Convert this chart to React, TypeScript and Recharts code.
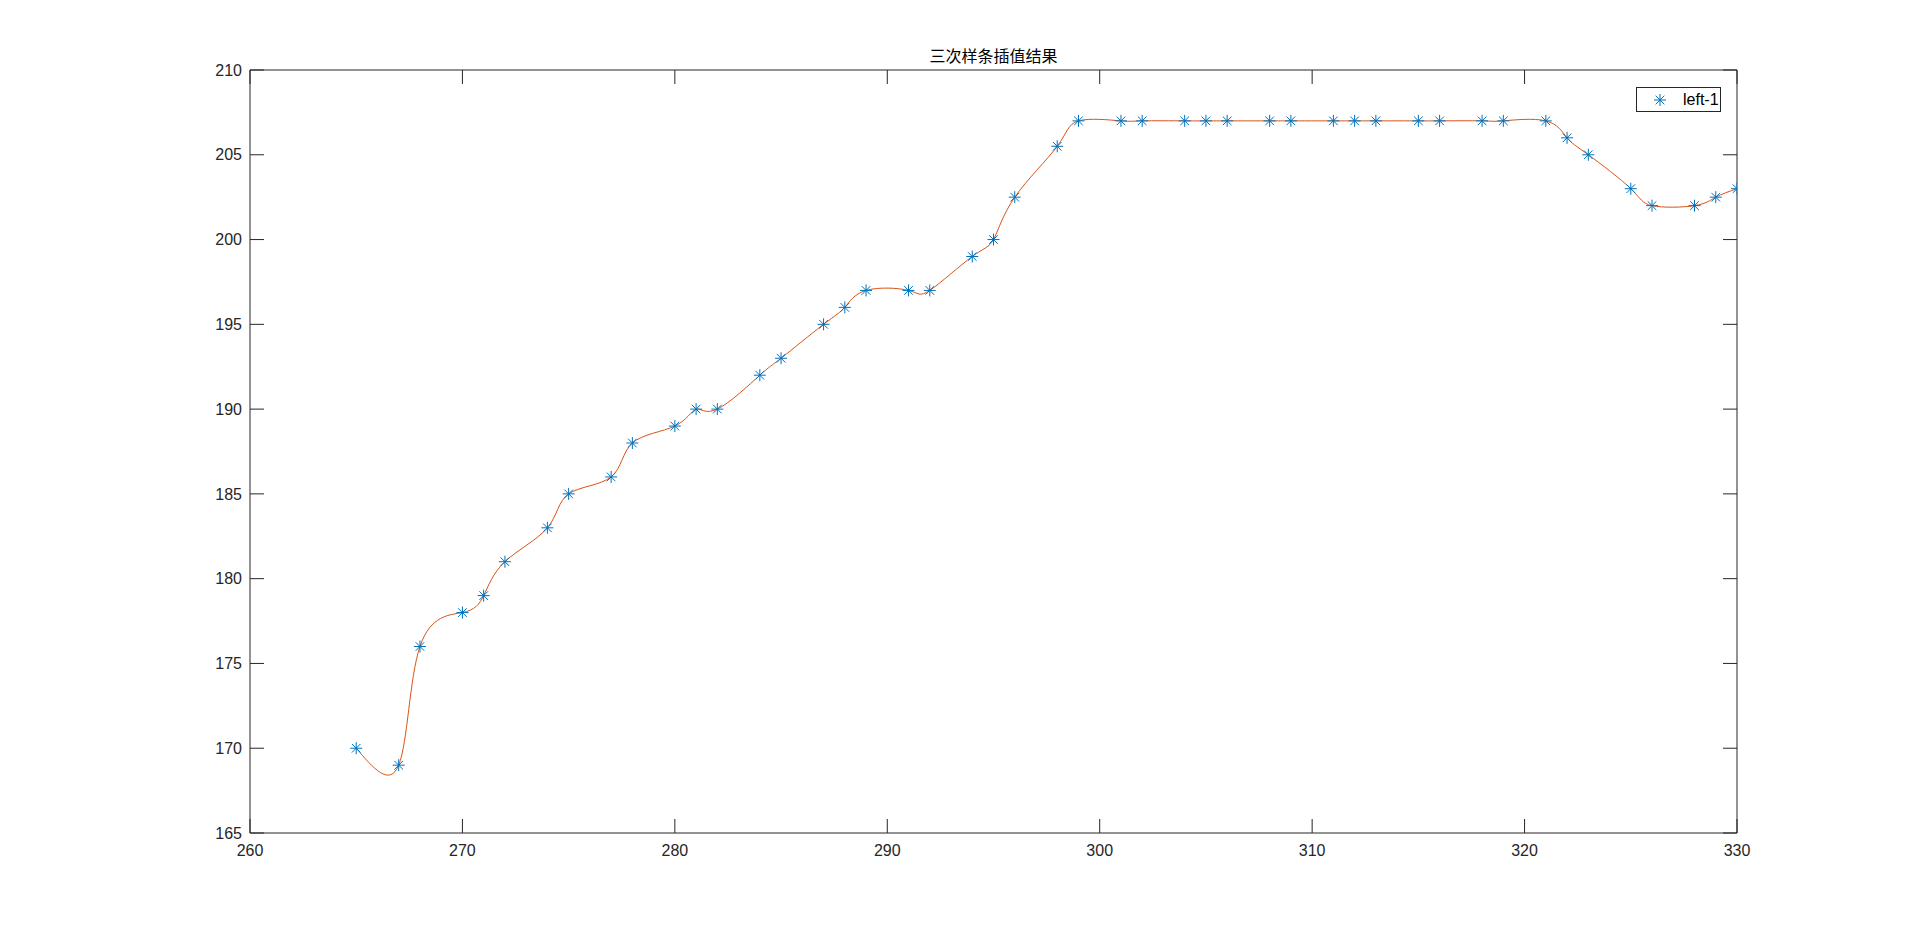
import {
  ComposedChart,
  Line,
  Scatter,
  XAxis,
  YAxis,
  Legend,
} from "recharts";

// sample points (x = position, y = value)
const xs = [
  265, 267, 268, 270, 271, 272, 274, 275, 277, 278, 280, 281, 282, 284, 285,
  287, 288, 289, 291, 292, 294, 295, 296, 298, 299, 301, 302, 304, 305, 306,
  308, 309, 311, 312, 313, 315, 316, 318, 319, 321, 322, 323, 325, 326, 328,
  329, 330,
];
const ys = [
  170, 169, 176, 178, 179, 181, 183, 185, 186, 188, 189, 190, 190, 192, 193,
  195, 196, 197, 197, 197, 199, 200, 202.5, 205.5, 207, 207, 207, 207, 207, 207,
  207, 207, 207, 207, 207, 207, 207, 207, 207, 207, 206, 205, 203, 202, 202,
  202.5, 203,
];
const xTicks = [260, 270, 280, 290, 300, 310, 320, 330];
const yTicks = [165, 170, 175, 180, 185, 190, 195, 200, 205, 210];

const TITLE = "三次样条插值结果";
const SERIES_NAME = "left-1";

const BLUE = "#0072BD";
const ORANGE = "#D95319";
const AXIS = "#262626";
const TICK_LEN = 14;

const data = xs.map((x, i) => ({ x, y: ys[i] }));

function Asterisk(props: any) {
  const { cx, cy } = props;
  if (cx == null || cy == null) return null;
  const r = 6;
  const d = 4.3;
  return (
    <g stroke={BLUE} strokeWidth={1}>
      <line x1={cx - r} y1={cy} x2={cx + r} y2={cy} />
      <line x1={cx} y1={cy - r} x2={cx} y2={cy + r} />
      <line x1={cx - d} y1={cy - d} x2={cx + d} y2={cy + d} />
      <line x1={cx - d} y1={cy + d} x2={cx + d} y2={cy - d} />
    </g>
  );
}

function LegendBox() {
  return (
    <div
      style={{
        display: "flex",
        alignItems: "center",
        width: 85,
        height: 25,
        boxSizing: "border-box",
        border: `1px solid ${AXIS}`,
        background: "#fff",
        fontFamily: "'Liberation Sans', Arial, sans-serif",
        fontSize: 16,
        color: "#000",
      }}
    >
      <svg width={46} height={23}>
        <Asterisk cx={23} cy={12} />
      </svg>
      <span>{SERIES_NAME}</span>
    </div>
  );
}

const tickFont = {
  fontFamily: "'Liberation Sans', Arial, sans-serif",
  fontSize: 16,
  fill: AXIS,
};

export default function App() {
  return (
    <div
      style={{
        position: "absolute",
        left: 0,
        top: 0,
        width: 1920,
        height: 937,
        background: "#fff",
      }}
    >
      <div
        style={{
          position: "absolute",
          left: 0,
          width: 1987,
          top: 43,
          textAlign: "center",
          fontFamily: "'Noto Sans CJK SC', sans-serif",
          fontSize: 16,
          color: "#000",
          pointerEvents: "none",
        }}
      >
        {TITLE}
      </div>
      <ComposedChart
        width={1920}
        height={937}
        data={data}
        margin={{ top: 60, right: 173, bottom: 64, left: 190 }}
      >
        <XAxis
          xAxisId="b"
          dataKey="x"
          type="number"
          domain={[260, 330]}
          ticks={xTicks}
          allowDataOverflow
          height={40}
          tickSize={-TICK_LEN}
          tickMargin={TICK_LEN + 12}
          stroke={AXIS}
          tick={tickFont}
        />
        <XAxis
          xAxisId="t"
          dataKey="x"
          type="number"
          orientation="top"
          domain={[260, 330]}
          ticks={xTicks}
          allowDataOverflow
          height={10}
          tickSize={-TICK_LEN}
          tickFormatter={() => ""}
          stroke={AXIS}
        />
        <YAxis
          yAxisId="l"
          type="number"
          domain={[165, 210]}
          ticks={yTicks}
          allowDataOverflow
          width={60}
          tickSize={-TICK_LEN}
          tickMargin={TICK_LEN + 8}
          stroke={AXIS}
          tick={tickFont}
        />
        <YAxis
          yAxisId="r"
          type="number"
          orientation="right"
          domain={[165, 210]}
          ticks={yTicks}
          allowDataOverflow
          width={10}
          tickSize={-TICK_LEN}
          tickFormatter={() => ""}
          stroke={AXIS}
        />
        <Legend
          layout="vertical"
          align="center"
          verticalAlign="middle"
          content={() => <LegendBox />}
          wrapperStyle={{ left: 1636, top: 87, width: "auto", height: "auto" }}
        />
        <Line
          xAxisId="b"
          yAxisId="l"
          dataKey="y"
          type="natural"
          stroke={ORANGE}
          strokeWidth={1}
          dot={false}
          legendType="none"
          isAnimationActive={false}
        />
        <Scatter
          xAxisId="b"
          yAxisId="l"
          dataKey="y"
          name={SERIES_NAME}
          shape={<Asterisk />}
          isAnimationActive={false}
        />
      </ComposedChart>
    </div>
  );
}
